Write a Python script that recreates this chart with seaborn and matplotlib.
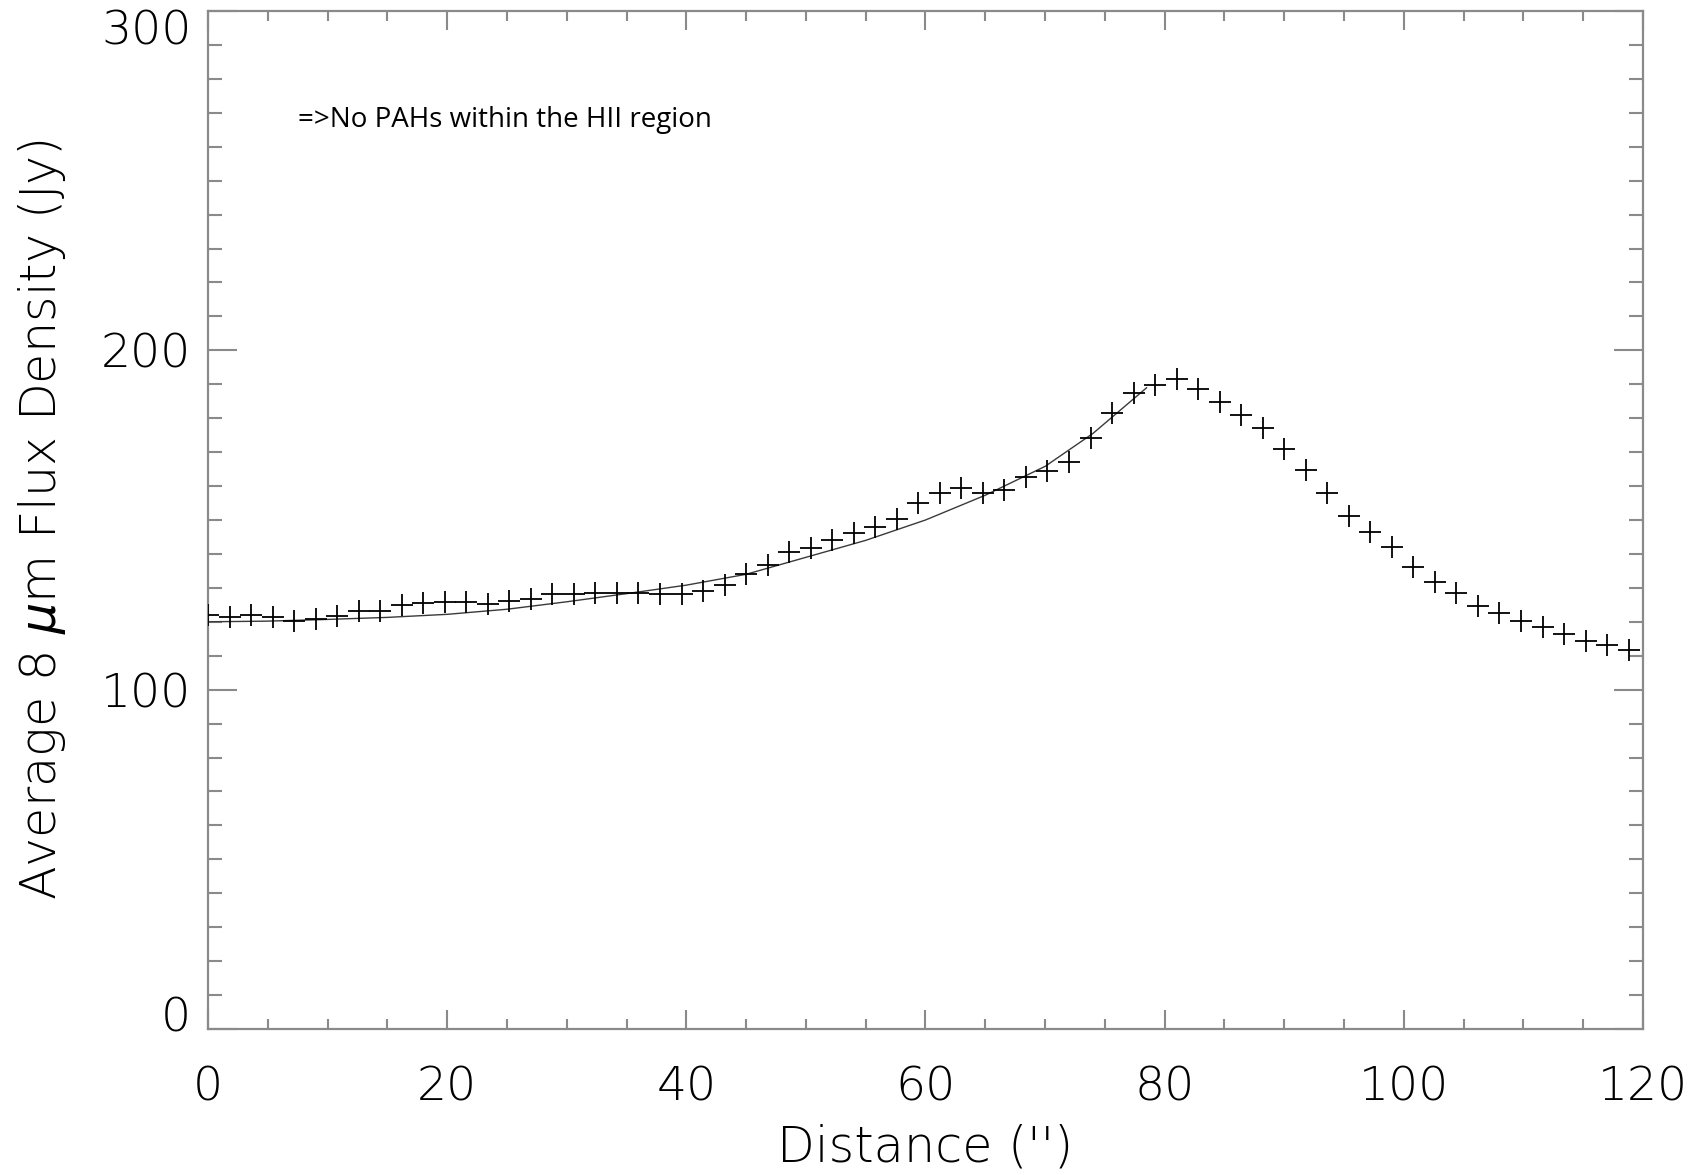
import matplotlib
matplotlib.use("Agg")
import matplotlib.pyplot as plt
import matplotlib.transforms as mtransforms
from matplotlib.ticker import MultipleLocator, FixedLocator
import seaborn as sns
import pandas as pd

# ---- data ----
distance = [0.0, 1.8, 3.6, 5.4, 7.2, 9.0, 10.8, 12.6, 14.4, 16.2, 18.0, 19.8,
            21.6, 23.4, 25.2, 27.0, 28.8, 30.6, 32.4, 34.2, 36.0, 37.8, 39.6, 41.4,
            43.2, 45.0, 46.8, 48.6, 50.4, 52.2, 54.0, 55.8, 57.6, 59.4, 61.2, 63.0,
            64.8, 66.6, 68.4, 70.2, 72.0, 73.8, 75.6, 77.4, 79.2, 81.0, 82.8, 84.6,
            86.4, 88.2, 90.0, 91.8, 93.6, 95.4, 97.2, 99.0, 100.8, 102.6, 104.4,
            106.2, 108.0, 109.8, 111.6, 113.4, 115.2, 117.0, 118.8]
flux = [122.0, 121.5, 122.0, 121.3, 120.2, 120.7, 121.8, 123.2, 123.2, 125.0,
        125.5, 125.8, 125.9, 125.3, 126.2, 126.6, 128.1, 128.1, 128.4, 128.4,
        128.4, 128.1, 128.1, 129.2,
        130.9, 134.1, 136.8, 140.7, 141.7, 144.1, 146.1, 147.9, 150.3, 154.9,
        157.9, 159.4, 157.9, 158.9, 162.8, 164.5, 167.2,
        174.1, 181.6, 187.3, 189.8, 191.5, 188.5, 184.7, 181.0, 177.0, 170.8,
        164.8, 158.1, 151.2, 146.6, 141.9, 136.1, 131.8, 128.4, 124.8, 122.5,
        120.2, 118.6, 116.4, 114.4, 113.2, 111.7]

fit_distance = [0, 5, 10, 15, 20, 25, 30, 35, 40, 45, 50, 55, 60, 65, 70, 74, 78.5]
fit_flux = [120.0, 120.2, 120.7, 121.3, 122.2, 123.7, 125.9, 128.3, 130.8,
            134.0, 139.0, 144.0, 150.0, 157.3, 165.8, 175.5, 189.0]

x_ticks = [0, 20, 40, 60, 80, 100, 120]
y_ticks = [0, 100, 200, 300]
annotation = "=>No PAHs within the HII region"
x_label = "Distance ('')"
y_label = r"Average 8 $\mu$m Flux Density (Jy)"

# ---- plotting ----
sns.set_style("white")
plt.rcParams["font.family"] = ["DejaVu Sans"]
plt.rcParams["mathtext.fontset"] = "dejavusans"
plt.rcParams["text.color"] = "black"
plt.rcParams["axes.labelcolor"] = "black"

fig = plt.figure(figsize=(17.06, 11.75), dpi=100)
ax = fig.add_axes([208 / 1706, 1 - 1029 / 1175, (1643 - 208) / 1706, (1029 - 11) / 1175])

pts = pd.DataFrame({"distance": distance, "flux": flux})
fit = pd.DataFrame({"distance": fit_distance, "flux": fit_flux})

sns.lineplot(data=fit, x="distance", y="flux", ax=ax, color="#3a3a3a",
             linewidth=1.0, sort=True, estimator=None)
sns.scatterplot(data=pts, x="distance", y="flux", ax=ax, marker="+", s=260,
                color="black", linewidth=1.3, zorder=3)

ax.set_xlim(0, 120)
ax.set_ylim(0, 300)
ax.xaxis.set_major_locator(FixedLocator(x_ticks))
ax.yaxis.set_major_locator(FixedLocator(y_ticks))
ax.xaxis.set_minor_locator(MultipleLocator(5))
ax.yaxis.set_minor_locator(MultipleLocator(10))

gray = "#8a8a8a"
for sp in ax.spines.values():
    sp.set_color(gray)
    sp.set_linewidth(1.6)

ax.tick_params(which="both", direction="in", top=True, right=True,
               bottom=True, left=True, color=gray, width=1.5,
               labelcolor="black")
ax.tick_params(axis="x", which="major", length=14, pad=26, labelsize=34)
ax.tick_params(axis="x", which="minor", length=7)
ax.tick_params(axis="y", which="major", length=21, pad=12, labelsize=34)
ax.tick_params(axis="y", which="minor", length=10)

for lab in ax.get_xticklabels() + ax.get_yticklabels():
    lab.set_fontweight(200)

ax.set_xlabel(x_label, fontsize=35.5, color="black", labelpad=10, fontweight=200)
ax.set_ylabel(y_label, fontsize=35.5, color="black", labelpad=24, fontweight=200)

ax.text(7.5, 265.9, annotation, fontsize=20, family=["Open Sans", "DejaVu Sans"],
        va="baseline", ha="left", color="black")

fig.canvas.draw()
for lab in ax.get_yticklabels():
    t = lab.get_text()
    if t == "0":
        lab.set_transform(lab.get_transform() +
                          mtransforms.ScaledTranslation(0, 15 / 100, fig.dpi_scale_trans))
    elif t == "300":
        lab.set_transform(lab.get_transform() +
                          mtransforms.ScaledTranslation(0, -16 / 100, fig.dpi_scale_trans))

fig.savefig("out.png", dpi=100)
